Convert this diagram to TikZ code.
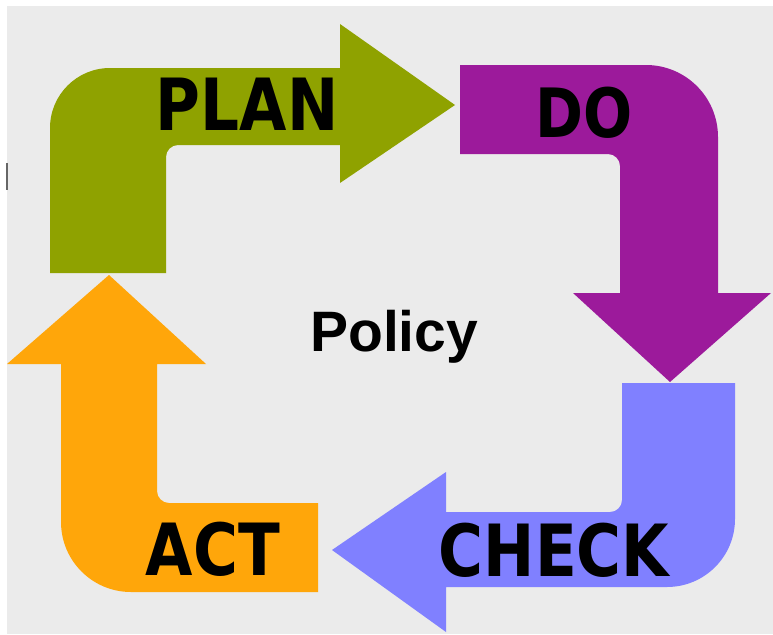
\documentclass[tikz,border=0pt]{standalone}
\usepackage{fontspec}
\setmainfont{Liberation Sans}
\newfontfamily\stagefont[FakeStretch=0.85]{DejaVu Sans}
\definecolor{plangreen}{RGB}{143,162,0}
\definecolor{dopurple}{RGB}{156,26,155}
\definecolor{checkblue}{RGB}{128,128,255}
\definecolor{actorange}{RGB}{255,166,10}
\definecolor{backgray}{RGB}{235,235,235}
\tikzset{
  stage/.style={font=\stagefont\bfseries\fontsize{72}{72}\selectfont, inner sep=0pt},
  bend/.style={fill=#1}
}
\begin{document}
\begin{tikzpicture}[x=1pt,y=-1pt]
    \useasboundingbox (0,0) rectangle (773,634);
    \fill[white] (0,0) rectangle (773,634);
    \fill[backgray] (7,6) rectangle (773,634);
    \fill[black!60] (6,163) rectangle (8,190);
    % PLAN
    \fill[bend=plangreen] (50,273) -- (50,128) arc[start angle=180,end angle=270,radius=60]
        -- (340,68) -- (340,24) -- (455,105) -- (340,183) -- (340,145)
        -- (178,145) arc[start angle=270,end angle=180,radius=12] -- (166,273) -- cycle;
    % DO
    \fill[bend=dopurple] (460,65) -- (646,65) arc[start angle=270,end angle=360,radius=72]
        -- (718,293) -- (771,293) -- (670,382) -- (573,293) -- (620,293)
        -- (620,166) arc[start angle=0,end angle=-90,radius=12] -- (460,154) -- cycle;
    % CHECK
    \fill[bend=checkblue] (622,383) -- (735,383) -- (735,519) arc[start angle=0,end angle=90,radius=68]
        -- (446,587) -- (446,632) -- (332,550) -- (446,472) -- (446,512)
        -- (610,512) arc[start angle=90,end angle=0,radius=12] -- cycle;
    % ACT
    \fill[bend=actorange] (61,364) -- (7,364) -- (109,275) -- (206,364) -- (157,364)
        -- (157,491) arc[start angle=180,end angle=90,radius=12] -- (318,503) -- (318,592)
        -- (131,592) arc[start angle=90,end angle=180,radius=70] -- cycle;
    \node[stage] (plan) at (247,104) {PLAN};
    \node[stage, font=\stagefont\bfseries\fontsize{68}{68}\selectfont] (do) at (584,113) {DO};
    \node[stage] (check) at (554,550) {CHECK};
    \node[stage] (act) at (213,549) {ACT};
    \node[font=\bfseries\fontsize{57}{57}\selectfont, anchor=base west, inner sep=0pt] (policy) at (310,351) {Policy};
\end{tikzpicture}
\end{document}
